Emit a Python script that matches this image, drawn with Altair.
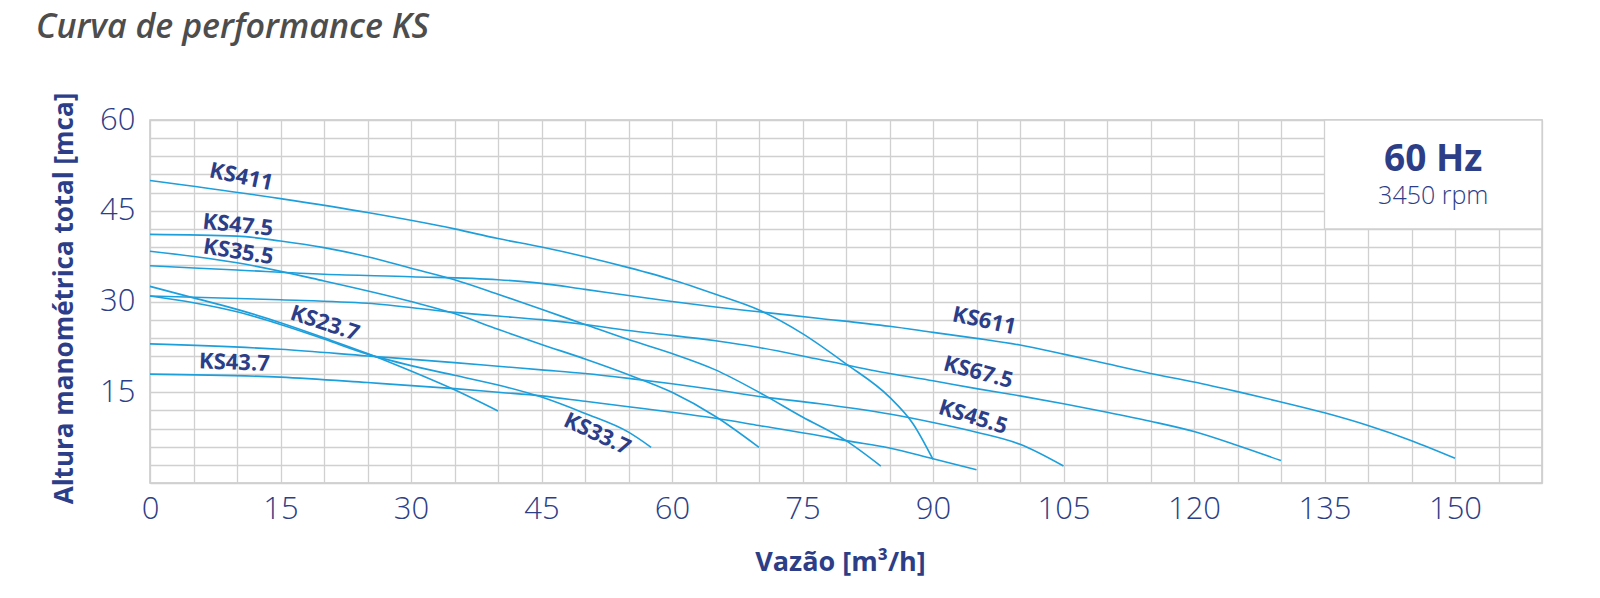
import altair as alt
import pandas as pd

FONT = "Open Sans"
NAVY = "#2c3e87"
BLUE = "#1d9fdc"
GRID = "#d0d0d0"

# ---- curve data (vazão m3/h, altura mca) ----
ks411_q = [0, 15, 25, 35, 40, 45, 50, 55, 60, 65, 70, 75, 80, 85, 87.7, 90]
ks411_h = [50.0, 47.0, 44.7, 42.0, 40.4, 39.0, 37.4, 35.6, 33.6, 31.2, 28.6, 24.7, 19.7, 14.2, 9.8, 3.9]

ks475_q = [0, 10, 15, 20, 25, 30, 35, 40, 45, 50, 55, 60, 65, 70, 75, 80, 84]
ks475_h = [41.1, 40.8, 40.0, 38.9, 37.4, 35.5, 33.6, 31.2, 28.7, 26.2, 23.7, 21.4, 18.7, 15.0, 10.9, 7.0, 2.8]

ks355_q = [0, 10, 20, 30, 35, 40, 45, 50, 55, 60, 65, 70]
ks355_h = [38.3, 36.4, 33.4, 30.0, 28.0, 25.4, 22.9, 20.5, 17.9, 15.0, 11.0, 5.9]

ks611_q = [0, 10, 20, 30, 40, 45, 50, 55, 60, 65, 70, 77, 85, 90, 95, 100, 105, 110, 115, 120, 125, 130, 135, 140, 145, 150]
ks611_h = [35.9, 35.2, 34.5, 34.1, 33.6, 33.0, 32.0, 31.0, 30.0, 29.1, 28.3, 27.2, 25.9, 24.9, 23.9, 22.8, 21.3, 19.7, 18.1, 16.7, 15.1, 13.4, 11.6, 9.5, 7.0, 4.1]

ks675_q = [0, 15, 25, 35, 40, 45, 50, 55, 60, 65, 70, 77, 85, 90, 95, 100, 105, 110, 115, 120, 125, 130]
ks675_h = [30.9, 30.3, 29.7, 28.2, 27.6, 27.0, 26.2, 25.2, 24.4, 23.5, 22.4, 20.4, 18.1, 16.9, 15.6, 14.4, 13.1, 11.7, 10.2, 8.5, 6.2, 3.7]

ks455_q = [0, 15, 25, 35, 40, 45, 50, 55, 60, 65, 70, 77, 85, 90, 95, 100, 105]
ks455_h = [23.0, 22.1, 21.0, 19.9, 19.3, 18.7, 18.1, 17.3, 16.4, 15.4, 14.3, 13.1, 11.4, 10.0, 8.4, 6.4, 2.8]

ks437_q = [0, 15, 25, 35, 40, 45, 50, 55, 60, 65, 70, 77, 80, 85, 90, 95]
ks437_h = [18.0, 17.5, 16.6, 15.6, 15.0, 14.4, 13.5, 12.6, 11.7, 10.7, 9.5, 7.8, 7.0, 5.8, 4.0, 2.2]

ks237_q = [0, 5, 10, 15, 20, 25, 30, 35, 40]
ks237_h = [32.5, 30.6, 28.7, 26.5, 24.0, 21.4, 18.5, 15.4, 11.9]

ks337_q = [0, 5, 10, 15, 20, 25, 30, 35, 40, 45, 50, 55, 57.6]
ks337_h = [30.9, 29.8, 28.3, 26.2, 23.8, 21.3, 19.4, 17.8, 16.2, 14.2, 11.5, 8.4, 5.9]

series = {
    "KS411": (ks411_q, ks411_h),
    "KS47.5": (ks475_q, ks475_h),
    "KS35.5": (ks355_q, ks355_h),
    "KS611": (ks611_q, ks611_h),
    "KS67.5": (ks675_q, ks675_h),
    "KS45.5": (ks455_q, ks455_h),
    "KS43.7": (ks437_q, ks437_h),
    "KS23.7": (ks237_q, ks237_h),
    "KS33.7": (ks337_q, ks337_h),
}

# ---- curve labels ----
label_text = ["KS411", "KS47.5", "KS35.5", "KS23.7", "KS43.7", "KS33.7", "KS611", "KS67.5", "KS45.5"]
label_q = [10.5, 10.1, 10.15, 20.1, 9.7, 51.4, 95.9, 95.2, 94.6]
label_h = [50.6, 42.6, 38.2, 26.4, 19.9, 8.1, 26.8, 18.3, 10.9]
label_angle = [12, 6, 9, 18, 2, 25, 12, 15, 17]

# ---- 60 Hz box ----
box_q = [135]
box_q2 = [160]
box_h = [42]
box_h2 = [60]
box_text = ["60 Hz", "3450 rpm"]
box_text_q = [147.5, 147.5]
box_text_h = [51.5, 46.1]

x_ticks = list(range(0, 161, 5))
y_ticks = list(range(0, 61, 3))

rows = []
for name, (qs, hs) in series.items():
    for q, h in zip(qs, hs):
        rows.append({"series": name, "q": q, "h": h})
df = pd.DataFrame(rows)

df_labels = pd.DataFrame({"text": label_text, "q": label_q, "h": label_h, "ang": label_angle})
df_box = pd.DataFrame({"q": box_q, "q2": box_q2, "h": box_h, "h2": box_h2})
df_hz = pd.DataFrame({"text": box_text[:1], "q": box_text_q[:1], "h": box_text_h[:1]})
df_rpm = pd.DataFrame({"text": box_text[1:], "q": box_text_q[1:], "h": box_text_h[1:]})

x_enc = alt.X(
    "q:Q",
    scale=alt.Scale(domain=[0, 160], nice=False, zero=False),
    axis=alt.Axis(
        values=x_ticks,
        labelExpr="datum.value % 15 == 0 && datum.value <= 150 ? datum.label : ''",
        grid=True, gridColor=GRID, gridWidth=1.3,
        domain=False, ticks=False, tickSize=0,
        labelFont=FONT, labelFontSize=31, labelFontWeight=300, labelColor=NAVY,
        labelPadding=35, labelBaseline="alphabetic", labelFlush=False, labelOverlap=False,
        title="Vazão [m³/h]", titleFont=FONT, titleFontSize=27, titleFontWeight="bold",
        titleColor=NAVY, titleX=690, titleY=87, titleBaseline="alphabetic", titleAlign="center",
    ),
)
y_enc = alt.Y(
    "h:Q",
    scale=alt.Scale(domain=[0, 60], nice=False, zero=False),
    axis=alt.Axis(
        values=y_ticks,
        labelExpr="datum.value % 15 == 0 && datum.value > 0 ? datum.label : ''",
        grid=True, gridColor=GRID, gridWidth=1.3,
        domain=False, ticks=False, tickSize=0,
        labelFont=FONT, labelFontSize=31, labelFontWeight=300, labelColor=NAVY,
        labelPadding=15, labelBaseline="middle", labelFlush=False, labelOverlap=False,
        title="Altura manométrica total [mca]", titleFont=FONT, titleFontSize=26,
        titleFontWeight="bold", titleColor=NAVY, titleAngle=270, titleX=-78, titleY=178,
        titleBaseline="alphabetic", titleAlign="center",
    ),
)

lines = alt.Chart(df).mark_line(interpolate="monotone", strokeWidth=1.6, color=BLUE).encode(
    x=x_enc, y=y_enc, detail="series:N"
)

box = alt.Chart(df_box).mark_rect(fill="white", stroke=GRID, strokeWidth=1.3).encode(
    x=x_enc, x2="q2:Q", y=y_enc, y2="h2:Q"
)

labels = alt.Chart(df_labels).mark_text(
    font=FONT, fontSize=22, fontWeight="bold", fontStyle="normal", color=NAVY,
    align="center", baseline="middle"
).encode(x=x_enc, y=y_enc, text="text:N", angle=alt.Angle("ang:Q", scale=None))

hz = alt.Chart(df_hz).mark_text(
    font=FONT, fontSize=37, fontWeight="bold", fontStyle="normal", color=NAVY,
    align="center", baseline="alphabetic"
).encode(x=x_enc, y=y_enc, text="text:N")

rpm = alt.Chart(df_rpm).mark_text(
    font=FONT, fontSize=25, fontWeight=300, fontStyle="normal", color=NAVY,
    align="center", baseline="alphabetic"
).encode(x=x_enc, y=y_enc, text="text:N")

chart = alt.layer(box, lines, labels, hz, rpm).properties(
    width=1392,
    height=363,
    padding={"left": 142, "top": 112, "right": 40, "bottom": 100},
    autosize=alt.AutoSizeParams(type="none"),
    title=alt.TitleParams(
        "Curva de performance KS", anchor="start", frame="group", dx=-114, offset=20,
        baseline="alphabetic", font=FONT, fontSize=34, fontStyle="italic", fontWeight=600,
        color="#4d4d4d",
    ),
).configure_view(stroke="#c8c8c8", strokeWidth=1.5)

chart.save("out.html", embed_options={"renderer": "svg", "actions": False})
